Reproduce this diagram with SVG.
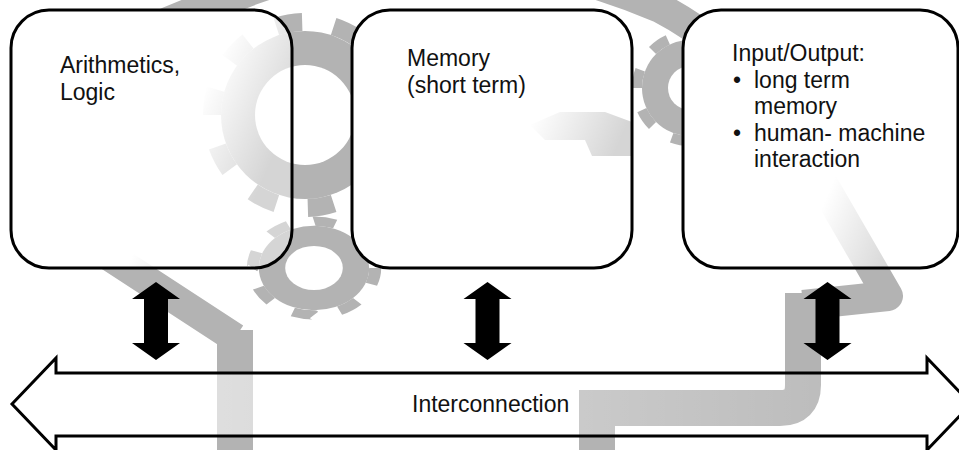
<svg xmlns="http://www.w3.org/2000/svg" width="959" height="450" viewBox="0 0 959 450">
  <style>
    .wm { fill: #b3b3b3; }
    .wmline { fill: none; stroke: #b3b3b3; stroke-width: 30; stroke-linejoin: round; }
    .wmv { fill: none; stroke: #b3b3b3; stroke-width: 36; }
    .teeth { fill: none; stroke: #b3b3b3; }
    .hole { fill: #ffffff; }
    .box { fill: url(#boxFill); stroke: #000; stroke-width: 3; }
    .label { font-family: "Liberation Sans", Arial, sans-serif; font-size: 23px; fill: #111; }
    .dbl { fill: #000; }
    .bus { fill: url(#busFill); stroke: #000; stroke-width: 3; stroke-linejoin: miter; }
  </style>
  <defs>
    <linearGradient id="boxFill" x1="0" y1="0" x2="1" y2="0.4">
      <stop offset="0" stop-color="#fff" stop-opacity="1"/>
      <stop offset="0.7" stop-color="#fff" stop-opacity="1"/>
      <stop offset="1" stop-color="#fff" stop-opacity="0.45"/>
    </linearGradient>
    <linearGradient id="busFill" x1="0" y1="0" x2="1" y2="0">
      <stop offset="0" stop-color="#fff" stop-opacity="0.72"/>
      <stop offset="1" stop-color="#fff" stop-opacity="0.02"/>
    </linearGradient>
    <path id="dblArrow" d="M0,282 L24,299 L12,299 L12,343 L24,343 L0,360 L-24,343 L-12,343 L-12,299 L-24,299 Z"/>
  </defs>

  <rect width="959" height="450" fill="#fff"/>

  <!-- background watermark -->
  <g id="watermark">
    <path class="wmline" d="M235,338 L100,250 Q30,150 120,50 Q160,20 215,5 Q430,-90 660,8 Q760,60 822,182 L888,296 L803,305"/>
    <path class="wmv" d="M235,470 L235,330"/>
    <path class="wmv" d="M803,293 L803,385 Q803,408 780,408 L597,408 L597,470"/>
    <!-- big gear -->
    <circle class="wm" cx="305" cy="115" r="84"/>
    <circle class="teeth" cx="305" cy="115" r="93" stroke-width="18" pathLength="100" stroke-dasharray="4.5 5.5"/>
    <circle class="hole" cx="305" cy="115" r="50"/>
    <!-- right gear -->
    <circle class="wm" cx="690" cy="88" r="48"/>
    <circle class="teeth" cx="690" cy="88" r="53" stroke-width="10" pathLength="80" stroke-dasharray="4.5 5.5"/>
    <circle class="hole" cx="690" cy="88" r="22"/>
    <path class="wm" d="M530,125 L560,112 L605,112 L632,122 L632,156 L592,156 L585,140 L545,140 Z"/>
    <!-- small gear -->
    <g transform="translate(314,268) scale(1.2,0.92)">
      <circle class="wm" cx="0" cy="0" r="46"/>
      <circle class="teeth" cx="0" cy="0" r="51" stroke-width="10" pathLength="80" stroke-dasharray="4.5 5.5"/>
      <circle class="hole" cx="0" cy="0" r="24"/>
    </g>
  </g>

  <g id="node-alu">
    <rect class="box" x="11" y="10" width="281" height="258" rx="38" ry="38"/>
    <text class="label" x="60" y="73">Arithmetics,</text>
    <text class="label" x="60" y="99.5">Logic</text>
  </g>

  <g id="node-memory">
    <rect class="box" x="352" y="10" width="280" height="258" rx="38" ry="38"/>
    <text class="label" x="407" y="66">Memory</text>
    <text class="label" x="407" y="92.5">(short term)</text>
  </g>

  <g id="node-io">
    <rect class="box" x="683" y="10" width="275" height="258" rx="38" ry="38"/>
    <text class="label" x="732" y="61">Input/Output:</text>
    <text class="label" x="733" y="87.5">•</text>
    <text class="label" x="754" y="87.5">long term</text>
    <text class="label" x="754" y="114">memory</text>
    <text class="label" x="733" y="140.5">•</text>
    <text class="label" x="754" y="140.5">human- machine</text>
    <text class="label" x="754" y="167">interaction</text>
  </g>

  <g id="node-interconnection">
    <path class="bus" d="M12,404 L56,358 L56,373 L927,373 L927,358 L971,404 L927,450 L927,436 L56,436 L56,450 Z"/>
    <text class="label" x="412" y="412">Interconnection</text>
  </g>

  <g id="connectors">
    <use href="#dblArrow" class="dbl" x="156"/>
    <use href="#dblArrow" class="dbl" x="487.5"/>
    <use href="#dblArrow" class="dbl" x="827.5"/>
  </g>
</svg>
